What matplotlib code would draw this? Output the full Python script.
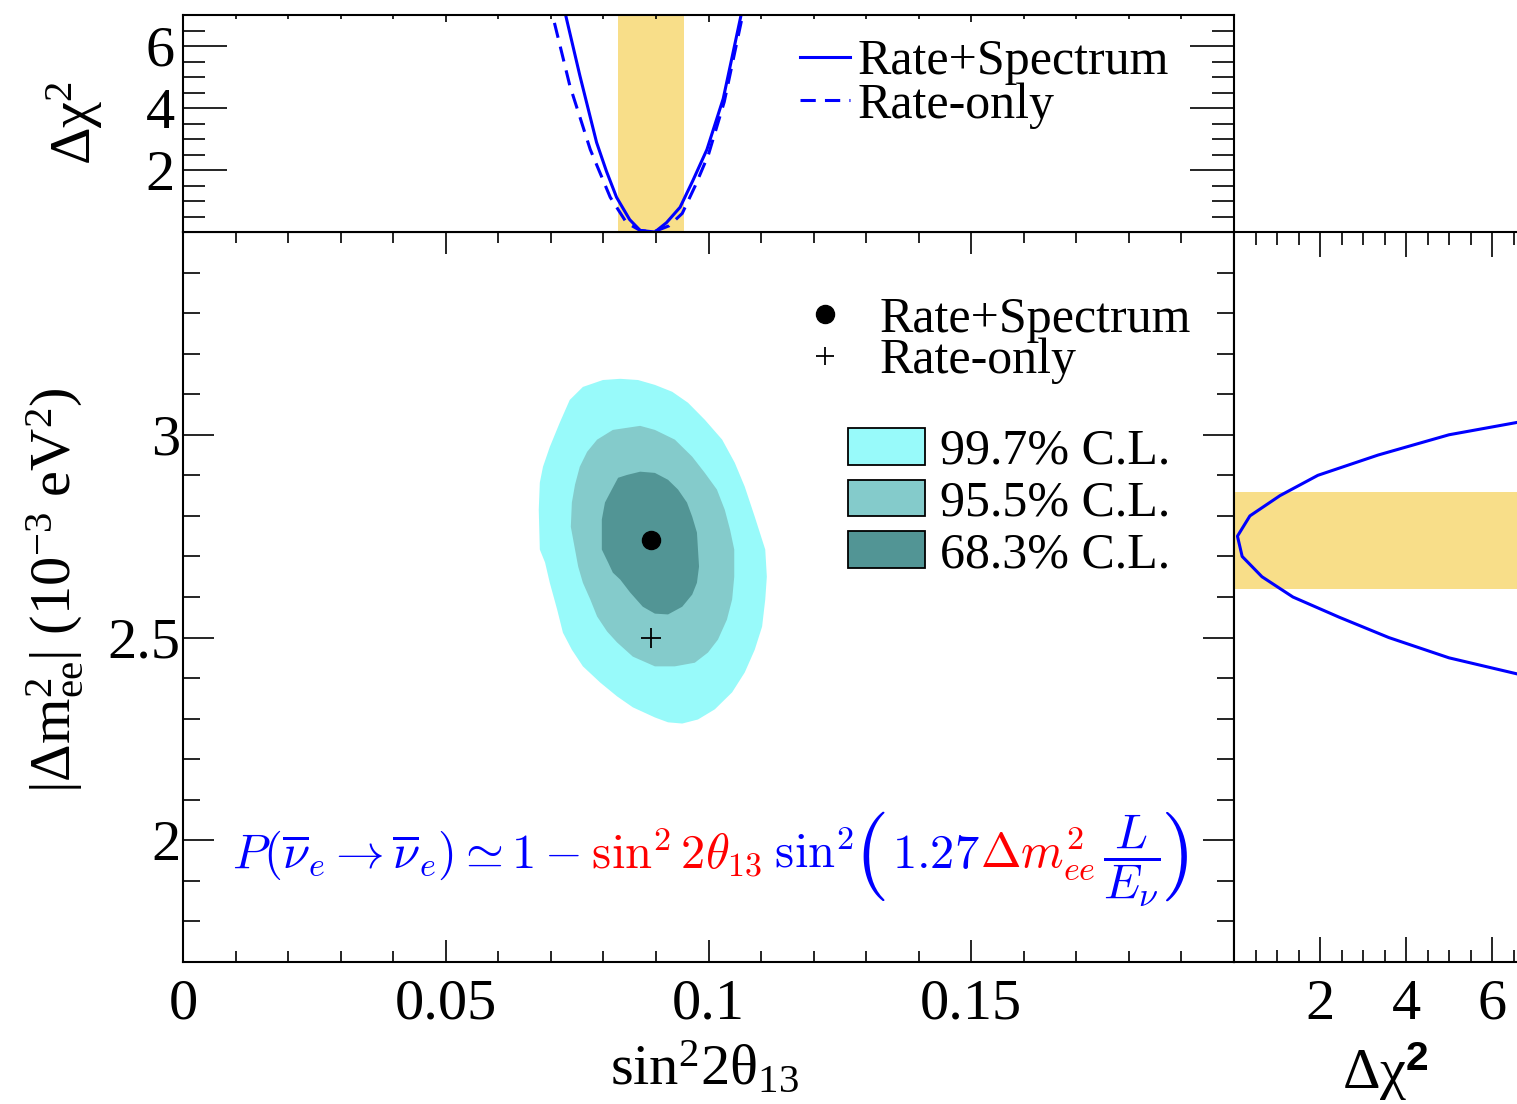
import matplotlib
matplotlib.use("Agg")
import matplotlib.pyplot as plt
from matplotlib.ticker import MultipleLocator, FixedLocator, FuncFormatter
from matplotlib.patches import Patch
from matplotlib.lines import Line2D
from matplotlib.transforms import IdentityTransform

# best fit points and 1-sigma bands
best_fit = (0.089, 2.74)
rate_only_fit = (0.089, 2.50)
s13_band = (0.0828, 0.0953)
dm2_band = (2.62, 2.86)

# top panel: delta chi2 vs sin^2 2theta13
s2t_rs = [0.0700, 0.0727, 0.0755, 0.0787, 0.0806, 0.0825, 0.0850, 0.0870,
          0.0898, 0.0920, 0.0946, 0.0970, 0.0997, 0.1028, 0.1063, 0.1080]
chi2_rs = [9.2, 7.08, 5.06, 2.89, 1.95, 1.12, 0.40, 0.05,
           0.0, 0.3, 0.80, 1.65, 2.66, 4.30, 7.08, 8.6]
s2t_ro = [0.0680, 0.0702, 0.0736, 0.0775, 0.0813, 0.0844, 0.0870, 0.0895,
          0.0925, 0.0950, 0.0975, 0.1000, 0.1030, 0.1065, 0.1085]
chi2_ro = [9.0, 7.08, 4.73, 2.66, 1.12, 0.30, 0.05, 0.0,
           0.2, 0.6, 1.5, 2.5, 4.2, 7.0, 8.8]

# right panel: delta chi2 vs |dm2_ee|
dm2_prof = [2.40, 2.45, 2.50, 2.55, 2.60, 2.65, 2.70, 2.75, 2.80, 2.85, 2.90, 2.95, 3.00, 3.05]
chi2_prof = [7.0, 5.0, 3.6, 2.45, 1.37, 0.65, 0.19, 0.08, 0.37, 1.07, 1.95, 3.35, 5.0, 7.6]

# allowed regions (outline points)
cl997_s = [0.0832, 0.0799, 0.0761, 0.0736, 0.0717, 0.0698, 0.0685, 0.0679, 0.0677, 0.0679,
           0.0689, 0.0698, 0.0712, 0.0723, 0.0740, 0.0761, 0.0794, 0.0826, 0.0856, 0.0898,
           0.0923, 0.0950, 0.0980, 0.1012, 0.1045, 0.1069, 0.1088, 0.1102, 0.1108, 0.1111,
           0.1108, 0.1088, 0.1069, 0.1050, 0.1026, 0.0993, 0.0961, 0.0931, 0.0898, 0.0866]
cl997_m = [3.138, 3.135, 3.118, 3.086, 3.030, 2.970, 2.921, 2.882, 2.815, 2.717,
           2.685, 2.635, 2.569, 2.512, 2.470, 2.429, 2.389, 2.355, 2.328, 2.303,
           2.291, 2.288, 2.298, 2.323, 2.365, 2.414, 2.470, 2.527, 2.594, 2.650,
           2.717, 2.798, 2.872, 2.931, 2.988, 3.037, 3.079, 3.106, 3.123, 3.135]
cl955_s = [0.0870, 0.0818, 0.0788, 0.0769, 0.0755, 0.0746, 0.0740, 0.0738, 0.0746, 0.0752,
           0.0761, 0.0775, 0.0788, 0.0807, 0.0826, 0.0856, 0.0898, 0.0936, 0.0974, 0.0999,
           0.1018, 0.1035, 0.1045, 0.1049, 0.1049, 0.1041, 0.1031, 0.1016, 0.0993, 0.0969,
           0.0936, 0.0898]
cl955_m = [3.022, 3.012, 2.988, 2.958, 2.921, 2.877, 2.833, 2.773, 2.717, 2.675,
           2.635, 2.594, 2.552, 2.515, 2.488, 2.453, 2.429, 2.429, 2.438, 2.463,
           2.495, 2.544, 2.594, 2.650, 2.717, 2.766, 2.815, 2.865, 2.906, 2.946,
           2.988, 3.012]
cl683_s = [0.0870, 0.0845, 0.0828, 0.0816, 0.0803, 0.0797, 0.0797, 0.0809, 0.0818, 0.0832,
           0.0851, 0.0875, 0.0898, 0.0923, 0.0950, 0.0969, 0.0978, 0.0982, 0.0980, 0.0978,
           0.0969, 0.0959, 0.0942, 0.0923, 0.0898]
cl683_m = [2.909, 2.901, 2.894, 2.865, 2.833, 2.791, 2.717, 2.685, 2.660, 2.643,
           2.611, 2.576, 2.559, 2.557, 2.576, 2.606, 2.635, 2.675, 2.717, 2.759,
           2.798, 2.833, 2.865, 2.889, 2.906]

cl_labels = ["99.7% C.L.", "95.5% C.L.", "68.3% C.L."]
cl_colors = ["#98fafa", "#84cbcb", "#529595"]
band_color = "#f8de89"

plt.rcParams["font.family"] = "Liberation Serif"
plt.rcParams["mathtext.fontset"] = "custom"
plt.rcParams["mathtext.rm"] = "Liberation Serif"
plt.rcParams["mathtext.it"] = "Liberation Serif:italic"
plt.rcParams["mathtext.bf"] = "Liberation Sans:bold"
plt.rcParams["axes.linewidth"] = 1.5

W, H = 1517, 1104
fig = plt.figure(figsize=(W / 100, H / 100), dpi=100)


def px_axes(l, t, r, b, **kw):
    return fig.add_axes([l / W, 1 - b / H, (r - l) / W, (b - t) / H], **kw)


ax = px_axes(183, 232, 1234, 962)
axt = px_axes(183, 15, 1234, 232, sharex=ax)
axr = px_axes(1234, 232, 1535, 962, sharey=ax)

# main panel
ax.fill(cl997_s, cl997_m, color=cl_colors[0], lw=0)
ax.fill(cl955_s, cl955_m, color=cl_colors[1], lw=0)
ax.fill(cl683_s, cl683_m, color=cl_colors[2], lw=0)
ax.plot(*best_fit, "o", color="black", ms=13)
ax.plot(*rate_only_fit, "+", color="black", ms=15, mew=1.3)
ax.set_xlim(0, 0.2)
ax.set_ylim(1.7, 3.5)
ax.xaxis.set_major_locator(MultipleLocator(0.05))
ax.xaxis.set_minor_locator(MultipleLocator(0.01))
ax.yaxis.set_major_locator(MultipleLocator(0.5))
ax.yaxis.set_minor_locator(MultipleLocator(0.1))
ax.xaxis.set_major_formatter(FuncFormatter(lambda v, p: "" if v > 0.19 else f"{v:g}"))
ax.yaxis.set_major_formatter(FuncFormatter(lambda v, p: "" if v > 3.4 else f"{v:g}"))
ax.tick_params(which="both", direction="in", top=True, right=True, labelsize=42, width=1.2)
ax.tick_params(axis="x", which="major", length=16, pad=12)
ax.tick_params(axis="x", which="minor", length=8)
ax.tick_params(axis="y", which="major", length=22, pad=2)
ax.tick_params(axis="y", which="minor", length=12)

mark_handles = [Line2D([], [], ls="", marker="o", color="black", ms=13),
                Line2D([], [], ls="", marker="+", color="black", ms=13, mew=1.3)]
leg1 = ax.legend(mark_handles, ["Rate+Spectrum", "Rate-only"], loc="upper left",
                 bbox_to_anchor=(0.587, 0.912), frameon=False, fontsize=36,
                 handlelength=1.0, handletextpad=0.6, labelspacing=-0.1,
                 borderpad=0, borderaxespad=0)
ax.add_artist(leg1)
cl_handles = [Patch(facecolor=c, edgecolor="black", lw=1.3) for c in cl_colors]
ax.legend(cl_handles, cl_labels, loc="upper left", bbox_to_anchor=(0.633, 0.732),
          frameon=False, fontsize=36, handlelength=1.54, handleheight=0.76,
          handletextpad=0.3, labelspacing=0.1, borderpad=0, borderaxespad=0)

# top panel
axt.axvspan(*s13_band, color=band_color, lw=0)
axt.plot(s2t_rs, chi2_rs, color="blue", lw=2.2, label="Rate+Spectrum")
axt.plot(s2t_ro, chi2_ro, color="blue", lw=2.2, dashes=(5, 3), label="Rate-only")
axt.set_ylim(0, 7)
axt.yaxis.set_major_locator(FixedLocator([2, 4, 6]))
axt.yaxis.set_minor_locator(MultipleLocator(0.5))
axt.tick_params(axis="x", which="both", direction="in", top=True, bottom=False,
                labelbottom=False, width=1.2)
axt.tick_params(axis="x", which="major", length=5)
axt.tick_params(axis="x", which="minor", length=3)
axt.tick_params(axis="y", which="both", direction="in", right=True, labelsize=42, width=1.2)
axt.tick_params(axis="y", which="major", length=32, pad=6)
axt.tick_params(axis="y", which="minor", length=16)
axt.legend(loc="upper left", bbox_to_anchor=(0.587, 0.891), frameon=False, fontsize=36,
           handlelength=1.0, handletextpad=0.16, labelspacing=-0.06,
           borderpad=0, borderaxespad=0)

# right panel
axr.axhspan(*dm2_band, color=band_color, lw=0)
axr.plot(chi2_prof, dm2_prof, color="blue", lw=2.2)
axr.set_xlim(0, 7)
axr.xaxis.set_major_locator(FixedLocator([2, 4, 6]))
axr.xaxis.set_minor_locator(MultipleLocator(0.5))
axr.tick_params(axis="x", which="both", direction="in", top=True, labelsize=42, width=1.2, pad=12)
axr.tick_params(axis="x", which="major", length=18)
axr.tick_params(axis="x", which="minor", length=9)
axr.tick_params(axis="y", which="both", left=False, labelleft=False)

# axis titles
fig.text(705 / W, 1 - 1068 / H, "sin$^{2}$2θ$_{13}$", fontsize=42, ha="center", va="center")
fig.text(55 / W, 1 - 590 / H, "|Δm$^{2}_{\\mathrm{ee}}$| (10$^{-3}$ eV$^{2}$)", fontsize=42,
         rotation=90, ha="center", va="center")
fig.text(75 / W, 1 - 123 / H, "Δχ$^{2}$", fontsize=42, rotation=90, ha="center", va="center")
fig.text(1385 / W, 1 - 1072 / H, "Δχ$^{\\mathbf{2}}$", fontsize=42, ha="center", va="center")

# oscillation formula, blue with red parameters
pieces = [
    (r"$P(\overline{\nu}_e \rightarrow \overline{\nu}_e) \simeq 1 -$", "blue", 35, 0),
    (r"$\;\sin^2 2\theta_{13}$", "red", 35, 0),
    (r"$\;\sin^2$", "blue", 35, 0),
    (r"$($", "blue", 64, 11),
    (r"$\,1.27$", "blue", 35, 0),
    (r"$\Delta m^2_{ee}$", "red", 35, 0),
    (r"$\,\dfrac{L}{E_\nu}$", "blue", 35, 0),
    (r"$)$", "blue", 64, 11),
]
renderer = fig.canvas.get_renderer()
xpos = 232
for s, c, fs, dy in pieces:
    t = fig.text(xpos, H - 868 - dy, s, color=c, fontsize=fs, math_fontfamily="cm",
                 transform=IdentityTransform(), va="baseline", ha="left")
    xpos += t.get_window_extent(renderer).width

fig.savefig("out.png", dpi=100)
